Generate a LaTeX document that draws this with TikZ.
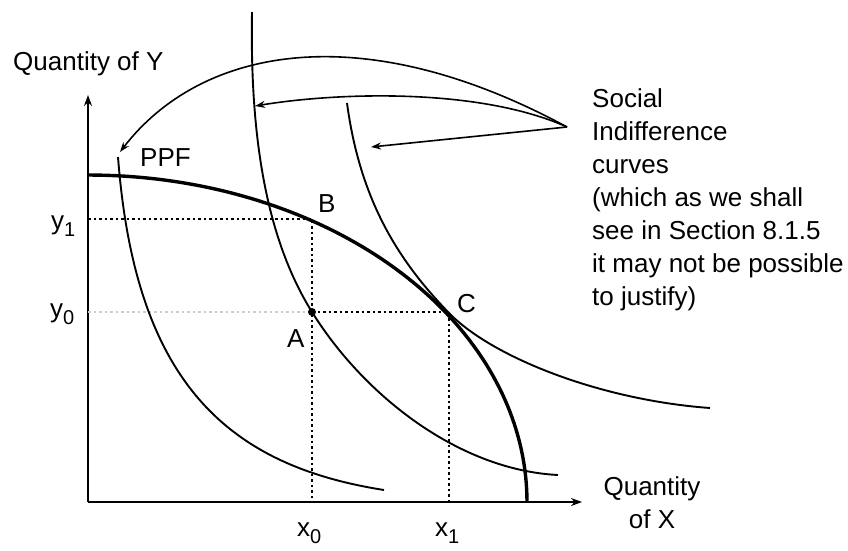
\documentclass[tikz,border=0pt]{standalone}
\usepackage{fontspec}
\setmainfont{Liberation Sans}
\usetikzlibrary{arrows.meta, calc, positioning}

\newcommand{\lowsub}[1]{\raisebox{-7pt}{\fontsize{20}{20}\selectfont #1}}

\begin{document}
\begin{tikzpicture}[x=1pt, y=-1pt,
        axis/.style={line width=1.8pt, -{Stealth[length=11pt, width=8pt]}},
        ppf/.style={line width=3.4pt},
        icurve/.style={line width=1.9pt},
        guide/.style={line width=1.5pt, dash pattern=on 2.5pt off 3pt},
        pointer/.style={line width=1.6pt, -{Stealth[length=10pt, width=7pt]}},
        lbl/.style={inner sep=0pt, anchor=base west, font=\fontsize{26}{33}\selectfont}]
        \useasboundingbox (0,0) rectangle (848,550);

        % Axes
        \coordinate (O) at (88,502);
        \coordinate (ytop) at (88,95);
        \coordinate (xend) at (582,502);
        \draw[axis] (O) -- (ytop);
        \draw[axis] (O) -- (xend);
        \node[lbl] (qy) at (13,70) {Quantity of Y};
        \node[lbl, anchor=north, align=center] (qx) at (652,476) {Quantity\\of X};

        % Guide lines (y1, y0, x0, x1)
        \coordinate (A) at (312,312);
        \coordinate (B) at (312,219);
        \coordinate (C) at (449,312);
        \draw[guide] (B -| O) -- (B) -- (B |- O);
        \draw[guide, black!20] (A -| O) -- (A);
        \draw[guide] (A) -- (C) -- (C |- O);

        % Social indifference curves
        \draw[icurve] (118,157) .. controls (135,380) and (225,465) .. (384,490);
        \draw[icurve] (252,12) .. controls (250,130) and (264,235) .. (A)
                      .. controls (365,397) and (460,470) .. (558,475);
        \draw[icurve] (347,103) .. controls (360,200) and (398,260) .. (448,312)
                      .. controls (491,357) and (600,400) .. (710,408);

        % PPF
        \draw[ppf] plot[domain=0:90, samples=80] ({88+439*cos(\x)}, {502-327*sin(\x)});
        \fill (A) circle (4pt);

        % Point labels
        \node[lbl] (lA) at (287,347) {A};
        \node[lbl] (lB) at (318,212) {B};
        \node[lbl] (lC) at (457,312) {C};
        \node[lbl] (lppf) at (140,166) {PPF};
        \node[lbl] (ly1) at (51,229) {y\lowsub{1}};
        \node[lbl] (ly0) at (50,317) {y\lowsub{0}};
        \node[lbl] (lx0) at (297,536) {x\lowsub{0}};
        \node[lbl] (lx1) at (435,536) {x\lowsub{1}};

        % Note with pointers
        \node[lbl, anchor=north west, align=left] (note) at (592,88) {Social\\Indifference\\curves\\(which as we shall\\see in Section 8.1.5\\it may not be possible\\to justify)};
        \coordinate (fan) at (567,127);
        \coordinate (t1) at (120,152);
        \coordinate (t2) at (255,106);
        \coordinate (t3) at (371,147);
        \draw[pointer] (fan) .. controls (360,15) and (200,48) .. (t1);
        \draw[pointer] (fan) .. controls (480,88) and (340,92) .. (t2);
        \draw[pointer] (fan) -- (t3);

\end{tikzpicture}
\end{document}
